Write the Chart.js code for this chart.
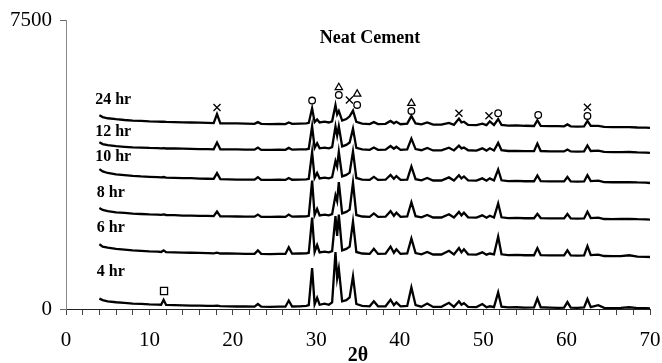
<!DOCTYPE html>
<html>
<head>
<meta charset="utf-8">
<script src="https://cdn.jsdelivr.net/npm/chart.js@4/dist/chart.umd.min.js"></script>
<style>
html,body{margin:0;padding:0;background:#fff;}
canvas{display:block;}
</style>
</head>
<body>
<canvas id="c" width="662" height="363"></canvas>
<script>
// ---------- DATA ----------
const twoTheta = [4.0,4.4,5.0,6.0,7.0,8.0,9.0,10.0,11.0,11.4,11.7,12.0,13.0,14.0,15.0,16.0,17.0,17.7,18.1,18.5,19.5,20.5,21.5,22.6,23.0,23.4,24.5,25.5,26.3,26.7,27.1,28.0,28.8,29.1,29.5,29.8,30.1,30.4,31.0,31.5,31.9,32.3,32.5,32.7,33.1,33.6,34.0,34.4,34.8,35.5,36.4,36.9,37.4,38.3,38.9,39.3,39.6,40.1,40.9,41.4,41.9,42.6,43.3,44.0,45.0,45.9,46.5,47.1,47.4,47.7,48.2,49.2,49.9,50.4,50.8,51.3,51.8,52.2,53.0,54.0,55.0,56.1,56.5,56.9,58.0,59.0,59.7,60.1,60.5,61.3,62.1,62.5,62.9,63.8,64.5,65.5,66.5,67.5,68.5,69.5,70.0];

const hr4 = [270,230,200,175,160,140,135,120,115,110,240,105,100,95,90,85,80,80,85,75,70,65,70,60,130,60,55,60,60,220,65,70,80,100,1060,120,290,110,140,110,170,1480,800,1050,200,230,300,850,130,80,70,200,70,70,240,100,170,70,80,560,100,60,140,55,55,160,55,200,110,150,55,50,130,45,70,50,430,60,40,45,35,40,270,45,35,30,35,180,35,30,40,260,50,100,30,25,30,45,25,20,15];

const hr6 = [1680,1620,1590,1560,1540,1520,1510,1495,1490,1480,1520,1475,1470,1465,1460,1455,1450,1445,1460,1440,1440,1435,1430,1430,1520,1430,1425,1430,1430,1600,1435,1440,1445,1460,2370,1480,1660,1470,1490,1470,1500,2410,1900,2450,1520,1560,1620,2270,1480,1440,1430,1560,1430,1435,1620,1460,1550,1430,1440,1830,1450,1420,1480,1415,1415,1510,1415,1580,1470,1550,1420,1410,1470,1410,1440,1415,1880,1420,1400,1405,1395,1395,1580,1400,1390,1390,1390,1520,1390,1385,1390,1630,1400,1410,1375,1370,1370,1395,1360,1355,1350];

const hr8 = [2620,2570,2540,2510,2495,2475,2465,2455,2450,2445,2455,2440,2435,2425,2425,2415,2415,2410,2530,2405,2405,2400,2395,2395,2450,2390,2390,2395,2390,2450,2395,2400,2405,2420,3330,2440,2600,2430,2450,2430,2460,2950,2800,3290,2480,2520,2580,3280,2440,2400,2390,2480,2390,2395,2540,2420,2500,2390,2400,2770,2410,2380,2440,2375,2375,2460,2375,2520,2430,2500,2380,2370,2430,2370,2420,2375,2740,2380,2360,2365,2355,2355,2470,2360,2350,2350,2350,2465,2350,2345,2350,2525,2360,2370,2335,2330,2335,2340,2330,2325,2320];

const hr10 = [3630,3570,3530,3495,3475,3455,3440,3430,3420,3415,3425,3410,3405,3395,3395,3385,3380,3375,3525,3370,3365,3360,3355,3355,3420,3350,3350,3355,3350,3400,3355,3360,3365,3380,4070,3400,3530,3390,3410,3390,3420,3840,3700,4080,3440,3480,3540,4090,3400,3360,3350,3430,3350,3355,3480,3380,3450,3350,3360,3700,3370,3340,3400,3335,3335,3415,3335,3470,3390,3440,3340,3330,3390,3330,3390,3335,3620,3340,3320,3325,3315,3315,3465,3320,3310,3310,3310,3425,3310,3305,3310,3475,3320,3330,3295,3290,3290,3295,3285,3280,3270];

const hr12 = [4330,4280,4250,4225,4210,4195,4190,4180,4175,4170,4175,4165,4165,4160,4155,4150,4150,4145,4320,4145,4140,4140,4135,4135,4190,4130,4130,4135,4130,4180,4135,4140,4145,4160,4740,4180,4300,4170,4190,4170,4200,4740,4500,4740,4220,4260,4320,4680,4180,4140,4130,4190,4130,4135,4230,4160,4210,4130,4140,4420,4150,4120,4180,4115,4115,4185,4115,4240,4170,4190,4120,4110,4170,4110,4170,4115,4310,4120,4100,4105,4095,4095,4295,4100,4090,4090,4090,4140,4090,4085,4090,4245,4100,4110,4075,4070,4070,4075,4065,4060,4050];

const hr24 = [5030,4980,4950,4925,4905,4890,4880,4870,4865,4860,4860,4855,4850,4845,4840,4835,4830,4825,5060,4820,4815,4815,4810,4805,4850,4805,4800,4805,4800,4840,4805,4810,4815,4830,5210,4850,4920,4840,4860,4840,4870,5290,5050,5140,4890,4930,5000,5150,4860,4810,4800,4850,4800,4805,4880,4820,4860,4795,4810,5010,4815,4790,4840,4785,4785,4830,4780,4940,4840,4860,4780,4770,4810,4770,4870,4775,4930,4780,4760,4765,4755,4750,4900,4755,4745,4745,4740,4790,4740,4735,4740,4880,4750,4750,4725,4720,4720,4720,4710,4705,4700];

const seriesNames = ["4 hr","6 hr","8 hr","10 hr","12 hr","24 hr"];

// phase markers: [2θ, intensity]
const crossMarks = [[18.1,5230],[33.97,5425],[47.1,5080],[50.7,5015],[62.5,5235]];
const circleMarks = [[29.5,5410],[32.7,5555],[34.9,5295],[41.4,5140],[51.8,5080],[56.6,5035],[62.5,5010]];
const triangleMarks = [[32.7,5750],[34.9,5580],[41.4,5340]];
const squareMarks = [[11.75,467]];

// series label anchors (2θ, intensity)
const labelAnchors = [[3.7,970],[3.7,2110],[3.7,3020],[3.5,3950],[3.5,4600],[3.5,5420]];

const xTickLabels = [0,10,20,30,40,50,60,70];
const yTickLabels = [0,7500];
const chartTitle = "Neat Cement";
const xTitle = "2\u03b8";

// ---------- BUILD ----------
const SERIF = "'Liberation Serif','Times New Roman',serif";
const allSeries = [hr4,hr6,hr8,hr10,hr12,hr24];
const toXY = arr => arr.map((v,i)=>({x:twoTheta[i], y:v}));
const pairs = arr => arr.map(p=>({x:p[0], y:p[1]}));

const datasets = allSeries.map((arr,i)=>({
  type:'line', label:seriesNames[i], data:toXY(arr),
  borderColor:'#000', borderWidth:2.3, pointRadius:0, tension:0, fill:false
}));
function markerSet(name, arr, style, r){
  return {type:'scatter', label:name, data:pairs(arr), pointStyle:style, pointRadius:r,
    pointBorderColor:'#000', pointBackgroundColor:'rgba(255,255,255,0)', pointBorderWidth:1.3, showLine:false};
}
datasets.push(markerSet('x', crossMarks, 'crossRot', 5));
datasets.push(markerSet('o', circleMarks, 'circle', 3.3));
datasets.push(markerSet('tri', triangleMarks, 'triangle', 4.2));
datasets.push(markerSet('sq', squareMarks, 'rect', 5));

const textPlugin = {
  id:'texts',
  afterDraw(chart){
    const ctx = chart.ctx, xs = chart.scales.x, ys = chart.scales.y;
    ctx.save();
    ctx.fillStyle = '#000';
    ctx.font = "bold 16px " + SERIF;
    ctx.textAlign = 'left';
    ctx.textBaseline = 'middle';
    labelAnchors.forEach((a,i)=>{
      ctx.fillText(seriesNames[i], xs.getPixelForValue(a[0]), ys.getPixelForValue(a[1]));
    });
    ctx.font = "bold 18px " + SERIF;
    ctx.textAlign = 'center';
    ctx.fillText(chartTitle, 370, 38);
    ctx.restore();
  }
};

new Chart(document.getElementById('c'), {
  data:{datasets},
  options:{
    responsive:false, animation:false, devicePixelRatio:1,
    layout:{padding:{left:0,right:12,top:20,bottom:0}},
    plugins:{legend:{display:false}, tooltip:{enabled:false}, title:{display:false}},
    scales:{
      x:{type:'linear', position:'bottom', min:0, max:70,
        afterFit(s){ s.height = 54; s.paddingLeft = 0; s.paddingRight = 0; },
        ticks:{stepSize:2, autoSkip:false, maxRotation:0, padding:13, color:'#000',
          font:{family:SERIF, size:21},
          callback:v => xTickLabels.includes(v) ? String(v) : ''},
        grid:{drawOnChartArea:false, drawTicks:true, tickLength:6, color:'#444', lineWidth:1},
        border:{display:true, color:'#222', width:1},
        title:{display:true, text:xTitle, color:'#000', font:{family:SERIF, size:20, weight:'bold', lineHeight:1}, padding:{top:0,bottom:-3}}
      },
      y:{type:'linear', min:0, max:7500,
        afterFit(s){ s.width = 66; s.paddingTop = 0; s.paddingBottom = 0; },
        afterBuildTicks(s){ s.ticks = yTickLabels.map(v=>({value:v})); },
        ticks:{padding:8, color:'#000', font:{family:SERIF, size:21}, callback:v => String(v)},
        grid:{drawOnChartArea:false, drawTicks:true, tickLength:6, color:'#666', lineWidth:1},
        border:{display:true, color:'#888', width:1}
      }
    }
  },
  plugins:[textPlugin]
});
</script>
</body>
</html>
